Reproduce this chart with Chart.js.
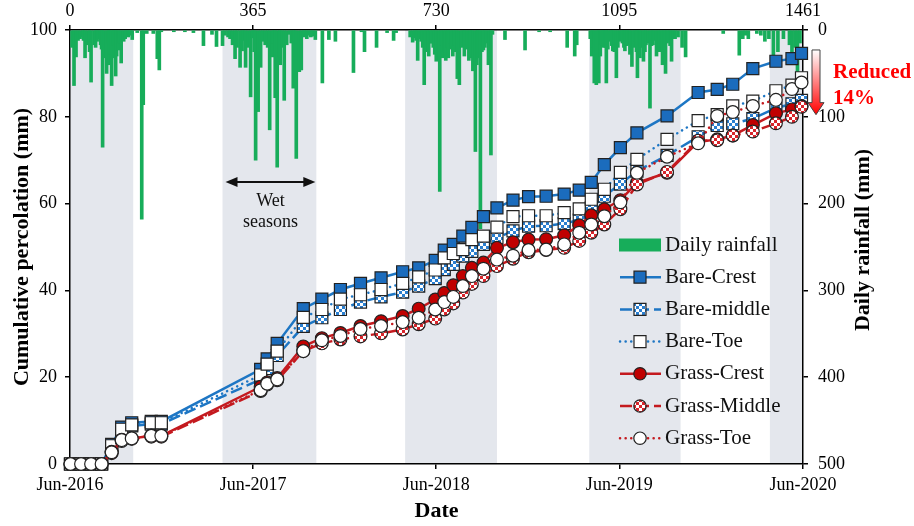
<!DOCTYPE html>
<html>
<head>
<meta charset="utf-8">
<script src="https://cdn.jsdelivr.net/npm/chart.js@4.4.1/dist/chart.umd.min.js"></script>
<style>
    html, body { margin: 0; padding: 0; background: #fff; }
    #chart-wrap { width: 914px; height: 526px; position: relative; }
</style>
</head>
<body>
<div id="chart-wrap"><canvas id="percolation-chart"></canvas></div>
<script>
// days counted from Jun-2016
const sampleDays = [1, 22, 42, 63, 83, 103, 123, 162, 182, 380, 393, 413, 465, 502, 539, 579, 620, 663, 695, 728,
    746, 764, 783, 801, 824, 851, 883, 914, 949, 985, 1015, 1039, 1065, 1097, 1130, 1190, 1252, 1290, 1321, 1361,
    1407, 1439, 1458];

// cumulative percolation (mm)
const bareCrest = [0, 0, 0, 0, 4.5, 8.5, 9.5, 9.8, 9.8, 21.8, 24.2, 27.8, 35.8, 38, 40.2, 41.6, 42.9, 44.3, 45.2, 46.9,
    49.3, 50.6, 52.5, 54.5, 57, 59, 60.8, 61.6, 61.7, 62.2, 63.1, 64.9, 69, 72.9, 76.3, 80.2, 85.6, 86.3, 87.5, 91.1,
    92.8, 93.4, 94.6];
const bareMiddle = [0, 0, 0, 0, 3.8, 7.5, 8.8, 9.2, 9.2, 19.5, 22, 25, 31.7, 33.7, 35.6, 37.3, 38.5, 39.6, 41, 42.7,
    44.8, 46, 47.9, 49, 50.6, 52.1, 53.7, 54.8, 54.9, 55.4, 56.2, 59, 61.7, 64.5, 67.5, 71.1, 75.4, 78, 78.4, 79.6,
    82, 83, 83.8];
const bareToe = [0, 0, 0, 0, 4.2, 8, 9, 9.5, 9.5, 20.5, 23, 26, 33.8, 35.6, 38, 39, 40.2, 41.6, 43.1, 44.7,
    47.5, 48.5, 49.4, 51.7, 52.5, 54.6, 57, 57.2, 57.2, 57.9, 58.8, 61, 63.3, 67.2, 70.2, 74.8, 79.1, 80.5, 82.5, 83.6,
    86, 87.3, 89];
const grassCrest = [0, 0, 0, 0, 2.8, 5.6, 5.9, 6.5, 6.5, 17.8, 18.8, 19.8, 27.1, 29, 30.2, 31.8, 32.9, 34.1, 35.8, 37.9,
    39.4, 41.2, 43.3, 45.2, 46.4, 49.8, 51.1, 51.7, 51.8, 52.7, 55, 57.3, 58.7, 60.8, 64.8, 67.1, 74.2, 74.8, 75.7, 78.1,
    80.8, 81.7, 82.5];
const grassMiddle = [0, 0, 0, 0, 2.5, 5.3, 5.8, 6.3, 6.3, 16.8, 18.3, 19.3, 26, 27.8, 28.7, 29.4, 30.1, 31, 32.2, 33.5,
    35.6, 37, 39.5, 41.5, 43.3, 45.6, 47.3, 48.8, 49.3, 49.8, 51.4, 53.3, 55.2, 58.7, 64.4, 67.3, 74.5, 74.6, 75.7, 76.6,
    78.5, 80, 82.3];
const grassToe = [0, 0, 0, 0, 2.7, 5.5, 5.9, 6.5, 6.5, 17, 18.5, 19.5, 26, 28.5, 29.5, 31.1, 31.8, 32.7, 33.7, 35.6,
    37.3, 38.5, 41, 43.3, 45, 47.1, 48, 49.3, 49.4, 50.6, 53.3, 55.2, 57.1, 60.3, 67.1, 70.8, 73.9, 80.2, 81.1, 82.5,
    83.9, 86.4, 87.9];

// daily rainfall (mm), rainy days only
const rainDays = [
    4, 8, 12, 16, 20, 25, 27, 30, 35, 39,
    42, 48, 51, 54, 57, 61, 63, 65, 69, 73,
    76, 78, 81, 83, 86, 88, 91, 93, 96, 99,
    102, 107, 110, 113, 116, 119, 121, 124, 134, 143,
    146, 153, 166, 174, 178, 182, 207, 229, 246, 266,
    283, 292, 304, 309, 315, 319, 324, 329, 333, 339,
    343, 346, 350, 355, 360, 364, 367, 370, 375, 380,
    384, 389, 394, 398, 403, 406, 409, 413, 417, 419,
    423, 427, 432, 438, 441, 445, 448, 451, 457, 461,
    466, 468, 472, 476, 480, 484, 489, 503, 516, 529,
    565, 581, 587, 611, 632, 645, 650, 678, 683, 687,
    690, 693, 697, 700, 703, 706, 709, 712, 715, 718,
    721, 724, 727, 730, 734, 737, 740, 743, 746, 749,
    752, 754, 757, 760, 763, 766, 769, 772, 776, 780,
    783, 786, 788, 792, 795, 798, 801, 803, 808, 811,
    813, 816, 818, 821, 824, 827, 830, 834, 836, 839,
    842, 867, 907, 935, 957, 991, 1006, 1010, 1037, 1040,
    1042, 1045, 1049, 1052, 1054, 1057, 1059, 1062, 1064, 1067,
    1069, 1072, 1074, 1078, 1080, 1082, 1085, 1089, 1092, 1096,
    1099, 1101, 1104, 1106, 1109, 1111, 1114, 1116, 1120, 1123,
    1126, 1129, 1131, 1134, 1136, 1139, 1143, 1146, 1148, 1152,
    1156, 1159, 1162, 1165, 1169, 1172, 1175, 1178, 1181, 1184,
    1187, 1190, 1193, 1196, 1199, 1203, 1206, 1212, 1220, 1227,
    1302, 1334, 1341, 1346, 1352, 1369, 1377, 1385, 1393, 1402,
    1411, 1422, 1434, 1439, 1445, 1450, 1455];
const rainMm = [
    20, 64, 31, 12, 10, 8, 12, 32, 17, 25,
    60, 17, 20, 13, 10, 17, 22, 135, 32, 50,
    15, 40, 28, 64, 18, 32, 53, 30, 23, 15,
    38, 13, 10, 7, 8, 5, 6, 11, 3, 218,
    86, 4, 4, 33, 46, 2, 2, 2, 3, 18,
    5, 19, 18, 6, 8, 10, 17, 33, 20, 43,
    24, 12, 43, 20, 77, 9, 25, 150, 94, 43,
    13, 17, 20, 115, 31, 15, 78, 158, 30, 40,
    20, 81, 17, 5, 15, 67, 30, 148, 48, 46,
    8, 5, 10, 6, 8, 7, 11, 61, 11, 13,
    49, 2, 25, 20, 3, 12, 3, 8, 14, 9,
    12, 35, 10, 13, 20, 63, 25, 12, 30, 15,
    15, 20, 28, 36, 30, 186, 18, 32, 25, 35,
    20, 32, 15, 22, 30, 18, 25, 56, 63, 20,
    14, 30, 10, 22, 35, 32, 25, 47, 140, 40,
    32, 30, 229, 25, 23, 20, 15, 40, 30, 144,
    5, 11, 23, 2, 2, 20, 30, 17, 10, 30,
    20, 61, 63, 25, 61, 30, 17, 15, 20, 20,
    61, 22, 13, 10, 18, 24, 25, 55, 20, 13,
    12, 15, 20, 24, 18, 17, 15, 28, 42, 20,
    13, 25, 55, 18, 32, 20, 36, 25, 17, 15,
    90, 18, 17, 12, 30, 15, 25, 20, 40, 22,
    50, 15, 13, 18, 36, 10, 10, 8, 20, 31,
    4, 29, 10, 6, 10, 4, 6, 13, 10, 29,
    25, 10, 17, 36, 20, 68, 15];

// wet seasons
const wetStart = [0, 304, 668, 1035, 1395];
const wetEnd = [126, 491, 851, 1217, 1461];

const dayTicks = [0, 365, 730, 1095, 1461];
const dateLabels = ['Jun-2016', 'Jun-2017', 'Jun-2018', 'Jun-2019', 'Jun-2020'];

const serif = "'Liberation Serif', 'Times New Roman', serif";
const blueLine = '#1d76c4';
const redLine = '#c41a1f';
const rainGreen = '#17ad5a';

const percolationChartHandler = function () {
    this.initialize = function () {
        bluePattern = makeChecker('#2a7fd0', '#ffffff', 3);
        redPattern = makeChecker('#d8262c', '#ffffff', 3);
        _this.render();
    };

    makeChecker = function (c1, c2, cell) {
        const cv = document.createElement('canvas');
        cv.width = cv.height = cell * 2;
        const g = cv.getContext('2d');
        g.fillStyle = c2;
        g.fillRect(0, 0, cell * 2, cell * 2);
        g.fillStyle = c1;
        g.fillRect(0, 0, cell, cell);
        g.fillRect(cell, cell, cell, cell);
        return g.createPattern(cv, 'repeat');
    };

    toPoints = function (values) {
        return sampleDays.map((d, i) => ({ x: d, y: values[i] }));
    };

    this.seriesDefs = function () {
        return [
            { label: 'Bare-Crest', values: bareCrest, color: blueLine, dash: [], style: 'rect', fill: '#1b6cbd', order: 6 },
            { label: 'Bare-middle', values: bareMiddle, color: blueLine, dash: [12, 5], style: 'rect', fill: bluePattern, order: 5 },
            { label: 'Bare-Toe', values: bareToe, color: blueLine, dash: [0.1, 5.5], style: 'rect', fill: '#ffffff', order: 4 },
            { label: 'Grass-Crest', values: grassCrest, color: redLine, dash: [], style: 'circle', fill: '#c00000', order: 3 },
            { label: 'Grass-Middle', values: grassMiddle, color: redLine, dash: [12, 5], style: 'circle', fill: redPattern, order: 2 },
            { label: 'Grass-Toe', values: grassToe, color: redLine, dash: [0.1, 5.5], style: 'circle', fill: '#ffffff', order: 1 }
        ];
    };

    drawMarker = function (ctx, style, x, y, fill) {
        ctx.save();
        ctx.setLineDash([]);
        ctx.fillStyle = fill;
        ctx.strokeStyle = '#222';
        ctx.lineWidth = 1.2;
        ctx.beginPath();
        if (style === 'rect') ctx.rect(x - 6, y - 6, 12, 12);
        else ctx.arc(x, y, 6.2, 0, Math.PI * 2);
        ctx.fill();
        ctx.stroke();
        ctx.restore();
    };

    const wetSeasonPlugin = {
        id: 'wetSeasons',
        beforeDraw(chart) {
            const { ctx, chartArea, scales: { x } } = chart;
            ctx.save();
            ctx.fillStyle = '#e4e7ed';
            wetStart.forEach((s, i) => {
                const x0 = x.getPixelForValue(s);
                const x1 = x.getPixelForValue(wetEnd[i]);
                ctx.fillRect(x0, chartArea.top, x1 - x0, chartArea.bottom - chartArea.top);
            });
            ctx.restore();
        }
    };

    const notesPlugin = {
        id: 'notes',
        afterDraw(chart) {
            const { ctx, chartArea, scales: { x, y } } = chart;
            ctx.save();

            // wet season arrow
            const ay = y.getPixelForValue(65);
            const ax0 = x.getPixelForValue(wetStart[1] + 6);
            const ax1 = x.getPixelForValue(wetEnd[1] - 2);
            ctx.strokeStyle = '#111';
            ctx.fillStyle = '#111';
            ctx.lineWidth = 2;
            ctx.beginPath();
            ctx.moveTo(ax0 + 8, ay);
            ctx.lineTo(ax1 - 8, ay);
            ctx.stroke();
            [[ax0, 1], [ax1, -1]].forEach(([px, dir]) => {
                ctx.beginPath();
                ctx.moveTo(px, ay);
                ctx.lineTo(px + dir * 12, ay - 5);
                ctx.lineTo(px + dir * 12, ay + 5);
                ctx.closePath();
                ctx.fill();
            });
            const midX = (ax0 + ax1) / 2;
            ctx.font = `18px ${serif}`;
            ctx.textAlign = 'center';
            ctx.textBaseline = 'middle';
            ctx.fillText('Wet', midX, y.getPixelForValue(60.5));
            ctx.fillText('seasons', midX, y.getPixelForValue(55.6));

            // reduction arrow beside the right axis
            const rx = chartArea.right + 13;
            const top = y.getPixelForValue(bareCrest[bareCrest.length - 1] + 0.8);
            const tip = y.getPixelForValue(grassCrest[grassCrest.length - 1] - 2);
            const grad = ctx.createLinearGradient(0, top, 0, tip);
            grad.addColorStop(0, '#ffffff');
            grad.addColorStop(1, '#ff0000');
            ctx.beginPath();
            ctx.moveTo(rx - 4, top);
            ctx.lineTo(rx + 4, top);
            ctx.lineTo(rx + 4, tip - 12);
            ctx.lineTo(rx + 8, tip - 12);
            ctx.lineTo(rx, tip);
            ctx.lineTo(rx - 8, tip - 12);
            ctx.lineTo(rx - 4, tip - 12);
            ctx.closePath();
            ctx.fillStyle = grad;
            ctx.fill();
            ctx.strokeStyle = '#444';
            ctx.lineWidth = 1;
            ctx.stroke();

            ctx.fillStyle = '#ff0000';
            ctx.font = `bold 21px ${serif}`;
            ctx.textAlign = 'left';
            ctx.textBaseline = 'alphabetic';
            ctx.fillText('Reduced', chartArea.right + 30, 78);
            ctx.fillText('14%', chartArea.right + 30, 104);

            // right axis title, reading bottom to top
            ctx.fillStyle = '#000';
            ctx.font = `bold 22px ${serif}`;
            ctx.textAlign = 'center';
            ctx.textBaseline = 'middle';
            ctx.translate(chartArea.right + 60, 240);
            ctx.rotate(-Math.PI / 2);
            ctx.fillText('Daily rainfall (mm)', 0, 0);
            ctx.restore();

            // legend
            ctx.save();
            const lx = 619, ly = 245, step = 32.2;
            ctx.font = `21px ${serif}`;
            ctx.textAlign = 'left';
            ctx.textBaseline = 'middle';
            ctx.fillStyle = rainGreen;
            ctx.fillRect(lx, ly - 6.5, 42, 13);
            ctx.fillStyle = '#111';
            ctx.fillText('Daily rainfall', lx + 46, ly);
            _this.seriesDefs().forEach((s, i) => {
                const py = ly + step * (i + 1);
                ctx.strokeStyle = s.color;
                ctx.lineWidth = 2.5;
                ctx.lineCap = s.dash.length && s.dash[0] < 1 ? 'round' : 'butt';
                ctx.setLineDash(s.dash);
                ctx.beginPath();
                ctx.moveTo(lx + 1, py);
                ctx.lineTo(lx + 42, py);
                ctx.stroke();
                drawMarker(ctx, s.style, lx + 21, py, s.fill);
                ctx.fillStyle = '#111';
                ctx.fillText(s.label, lx + 46, py);
            });
            ctx.restore();
        }
    };

    this.render = function () {
        const tickFont = { family: serif, size: 18 };
        const titleFont = { family: serif, size: 22, weight: 'bold' };
        const axisGrid = { drawOnChartArea: false, offset: false, tickLength: 5, color: '#000', lineWidth: 1.5 };
        const axisBorder = { color: '#000', width: 1.5 };

        const datasets = this.seriesDefs().map(s => ({
            type: 'line',
            label: s.label,
            data: toPoints(s.values),
            borderColor: s.color,
            borderWidth: 2.5,
            borderDash: s.dash,
            borderCapStyle: s.dash.length && s.dash[0] < 1 ? 'round' : 'butt',
            pointStyle: s.style,
            pointRadius: s.style === 'rect' ? 8.5 : 6.4,
            pointBackgroundColor: s.fill,
            pointBorderColor: '#222',
            pointBorderWidth: 1.2,
            tension: 0,
            clip: false,
            order: s.order,
            xAxisID: 'x',
            yAxisID: 'y'
        }));

        datasets.push({
            type: 'bar',
            label: 'Daily rainfall',
            data: rainDays.map((d, i) => ({ x: d, y: rainMm[i] })),
            backgroundColor: rainGreen,
            barThickness: 3,
            grouped: false,
            order: 7,
            xAxisID: 'x',
            yAxisID: 'y2'
        });

        new Chart('percolation-chart', {
            type: 'line',
            data: { datasets: datasets },
            options: {
                responsive: true,
                maintainAspectRatio: false,
                animation: false,
                events: [],
                layout: { padding: 0 },
                plugins: { legend: { display: false }, tooltip: { enabled: false } },
                scales: {
                    x: {
                        type: 'linear', position: 'bottom', min: 0, max: 1461, offset: false,
                        afterBuildTicks: s => { s.ticks = dayTicks.map(v => ({ value: v })); },
                        afterFit: s => { s.height = 62; },
                        ticks: {
                            autoSkip: false, maxRotation: 0, padding: 5, color: '#000', font: tickFont,
                            callback: v => dateLabels[dayTicks.indexOf(v)]
                        },
                        grid: axisGrid,
                        border: axisBorder,
                        title: { display: true, text: 'Date', color: '#000', font: titleFont, padding: { top: 0, bottom: 1 } }
                    },
                    x2: {
                        type: 'linear', position: 'top', min: 0, max: 1461, offset: false,
                        afterBuildTicks: s => { s.ticks = dayTicks.map(v => ({ value: v })); },
                        afterFit: s => { s.height = 30; },
                        ticks: { autoSkip: false, maxRotation: 0, padding: 3, color: '#000', font: tickFont, callback: v => String(v) },
                        grid: axisGrid,
                        border: axisBorder
                    },
                    y: {
                        position: 'left', min: 0, max: 100,
                        afterFit: s => { s.width = 70; },
                        ticks: { stepSize: 20, padding: 8, color: '#000', font: tickFont },
                        grid: axisGrid,
                        border: axisBorder,
                        title: { display: true, text: 'Cumulative percolation (mm)', color: '#000', font: titleFont, padding: { top: 9, bottom: 0 } }
                    },
                    y2: {
                        position: 'right', min: 0, max: 500, reverse: true,
                        afterFit: s => { s.width = 111; },
                        ticks: { stepSize: 100, padding: 10, color: '#000', font: tickFont },
                        grid: axisGrid,
                        border: axisBorder
                    }
                }
            },
            plugins: [wetSeasonPlugin, notesPlugin]
        });
    };

    let bluePattern, redPattern;
    const _this = this;
    this.initialize();
};

window.addEventListener('load', function () {
    new percolationChartHandler();
});
</script>
</body>
</html>
